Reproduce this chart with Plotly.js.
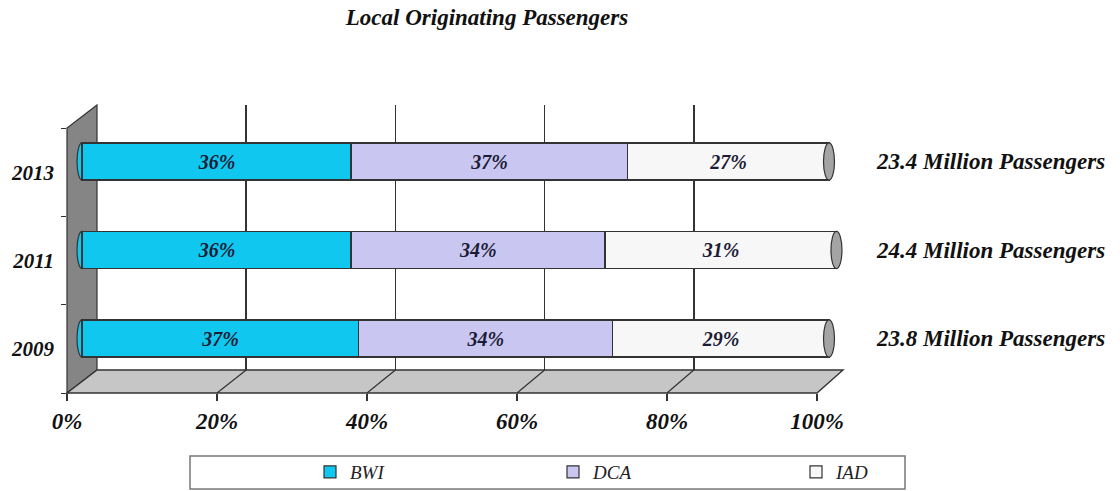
<!DOCTYPE html>
<html>
<head>
<meta charset="utf-8">
<script src="https://cdn.plot.ly/plotly-3.0.1.min.js"></script>
<style>html,body{margin:0;padding:0;background:#fff;}#chart{width:1120px;height:491px;}</style>
</head>
<body>
<div id="chart"></div>
<script>
// ---- data ----
const years = ['2009', '2011', '2013'];
const bwi = [37, 36, 36];
const dca = [34, 34, 37];
const iad = [29, 31, 27];
const totalLabels = ['23.8 Million Passengers', '24.4 Million Passengers', '23.4 Million Passengers'];
const seriesNames = ['BWI', 'DCA', 'IAD'];
const xTicks = [0, 20, 40, 60, 80, 100];

// ---- geometry helpers (pixel -> paper) ----
const W = 1120, H = 491;
const px = v => v / W;
const py = v => 1 - v / H;

const FONT = 'Liberation Serif';
const colors = ['#10c8ef', '#c9c7f1', '#f7f7f7'];
const seriesVals = [bwi, dca, iad];

const FRONT0 = 67, FRONT1 = 817, BACK0 = 97, BACK1 = 843;
const FLOOR_FRONT = 393, FLOOR_BACK = 370, WALL_TOP_FRONT = 128, WALL_TOP_BACK = 105;
const BAR0 = 82, BARSCALE = 7.47, BARMIN = -2, BARMAX = 102;

const traces = [];
traces.push({type: 'scatter', x: [0, 100], y: [0, 1], xaxis: 'x', yaxis: 'y', mode: 'markers',
  marker: {opacity: 0}, showlegend: false, hoverinfo: 'skip'});
seriesVals.forEach((vals, k) => {
  traces.push({
    type: 'bar', orientation: 'h', y: years, x: vals, name: seriesNames[k],
    xaxis: 'x2', yaxis: 'y2',
    marker: {color: colors[k], line: {color: '#333', width: 1.2}},
    text: vals.map(v => v + '%'), textposition: 'inside', insidetextanchor: 'middle',
    constraintext: 'none', textangle: 0,
    textfont: {family: FONT, size: 20, color: '#1b1b35', weight: 'bold', style: 'italic'},
    hoverinfo: 'skip'
  });
});
traces.push({type: 'scatter', x: [0, 0, 0], y: years, xaxis: 'x3', yaxis: 'y3', mode: 'markers',
  marker: {opacity: 0}, showlegend: false, hoverinfo: 'skip'});

const shapes = [];
shapes.push({type: 'path', xref: 'paper', yref: 'paper', layer: 'below',
  path: `M ${px(FRONT0)} ${py(FLOOR_FRONT)} L ${px(FRONT0)} ${py(WALL_TOP_FRONT)} L ${px(BACK0)} ${py(WALL_TOP_BACK)} L ${px(BACK0)} ${py(FLOOR_BACK)} Z`,
  fillcolor: '#858585', line: {color: '#333', width: 1.2}});
shapes.push({type: 'path', xref: 'paper', yref: 'paper', layer: 'below',
  path: `M ${px(FRONT0)} ${py(FLOOR_FRONT)} L ${px(FRONT1)} ${py(FLOOR_FRONT)} L ${px(BACK1)} ${py(FLOOR_BACK)} L ${px(BACK0)} ${py(FLOOR_BACK)} Z`,
  fillcolor: '#c6c6c6', line: {color: '#333', width: 1.4}});
xTicks.slice(1, -1).forEach(v => {
  const fx = FRONT0 + (FRONT1 - FRONT0) * v / 100;
  const bx = BACK0 + (BACK1 - BACK0) * v / 100;
  shapes.push({type: 'line', xref: 'paper', yref: 'paper', layer: 'below',
    x0: px(fx), y0: py(FLOOR_FRONT), x1: px(bx), y1: py(FLOOR_BACK), line: {color: '#333', width: 1.2}});
});
years.forEach((yr, i) => {
  const total = bwi[i] + dca[i] + iad[i];
  shapes.push({type: 'circle', xref: 'x2', yref: 'y2', layer: 'below', xsizemode: 'pixel', xanchor: 0,
    x0: -5, x1: 5, y0: i - 0.21, y1: i + 0.21, fillcolor: colors[0], line: {color: '#333', width: 1.2}});
  shapes.push({type: 'circle', xref: 'x2', yref: 'y2', layer: 'above', xsizemode: 'pixel', xanchor: total,
    x0: -5.5, x1: 5.5, y0: i - 0.21, y1: i + 0.21, fillcolor: '#a4a4a4', line: {color: '#333', width: 1.2}});
});
shapes.push({type: 'rect', xref: 'paper', yref: 'paper', layer: 'below',
  x0: px(190), x1: px(905), y0: py(489), y1: py(456), fillcolor: '#fff', line: {color: '#777', width: 1.5}});

const annotations = years.map((yr, i) => ({
  xref: 'paper', yref: 'y2', x: px(990), y: i, xanchor: 'center', yanchor: 'middle', showarrow: false,
  text: totalLabels[i], font: {family: FONT, size: 23, color: '#111', weight: 'bold', style: 'italic'}
}));

const layout = {
  width: W, height: H, autosize: false,
  font: {family: FONT, color: '#111'},
  margin: {l: 0, r: 0, t: 0, b: 0},
  paper_bgcolor: '#fff', plot_bgcolor: 'rgba(0,0,0,0)',
  barmode: 'stack', bargap: 0.58,
  title: {text: '<b><i>Local Originating Passengers</i></b>', x: px(487), xanchor: 'center', xref: 'paper',
    y: py(17), yanchor: 'middle', yref: 'paper',
    font: {family: FONT, size: 23, color: '#111'}},
  xaxis: {domain: [px(BACK0), px(BACK1)], range: [0, 100], tickvals: xTicks, showgrid: true, gridcolor: '#333',
    gridwidth: 1.5, zeroline: false, showticklabels: false, ticks: '', showline: false, anchor: 'y', fixedrange: true},
  yaxis: {domain: [py(FLOOR_BACK), py(WALL_TOP_BACK)], range: [0, 1], showgrid: false, zeroline: false,
    showticklabels: false, ticks: '', showline: false, anchor: 'x', fixedrange: true},
  xaxis2: {domain: [px(BAR0 + BARSCALE * BARMIN), px(BAR0 + BARSCALE * BARMAX)], range: [BARMIN, BARMAX],
    showgrid: false, zeroline: false, showticklabels: false, ticks: '', showline: false, anchor: 'y2', fixedrange: true},
  yaxis2: {domain: [py(382.75), py(117.25)], type: 'category', categoryorder: 'array', categoryarray: years,
    range: [-0.5, 2.5], showgrid: false, zeroline: false, showticklabels: false, ticks: '', showline: false,
    anchor: 'x2', fixedrange: true},
  xaxis3: {domain: [px(FRONT0), px(FRONT1)], range: [0, 100], tickvals: xTicks, ticktext: xTicks.map(v => v + '%'),
    showgrid: false, zeroline: false, showline: false, ticks: 'outside', ticklen: 7, tickwidth: 1.2, tickcolor: '#333',
    tickfont: {family: FONT, size: 23, color: '#111', weight: 'bold', style: 'italic'},
    anchor: 'y3', fixedrange: true},
  yaxis3: {domain: [py(FLOOR_FRONT), py(WALL_TOP_FRONT)], type: 'category', categoryorder: 'array', categoryarray: years,
    range: [-0.5, 2.5], showgrid: false, zeroline: false, showline: false, ticks: 'outside', tickson: 'boundaries',
    ticklen: 5, tickcolor: '#333', ticklabelstandoff: 12,
    tickfont: {family: FONT, size: 21, color: '#111', weight: 'bold', style: 'italic'},
    anchor: 'x3', fixedrange: true},
  showlegend: true,
  legend: {orientation: 'h', x: px(310), xanchor: 'left', y: py(472), yanchor: 'middle',
    entrywidth: 198, entrywidthmode: 'pixels', traceorder: 'normal', bgcolor: 'rgba(0,0,0,0)', borderwidth: 0,
    itemwidth: 30, font: {family: FONT, size: 19, color: '#222', style: 'italic'}},
  shapes: shapes,
  annotations: annotations,
  hovermode: false
};

Plotly.newPlot('chart', traces, layout, {staticPlot: true, displayModeBar: false});
</script>
</body>
</html>
